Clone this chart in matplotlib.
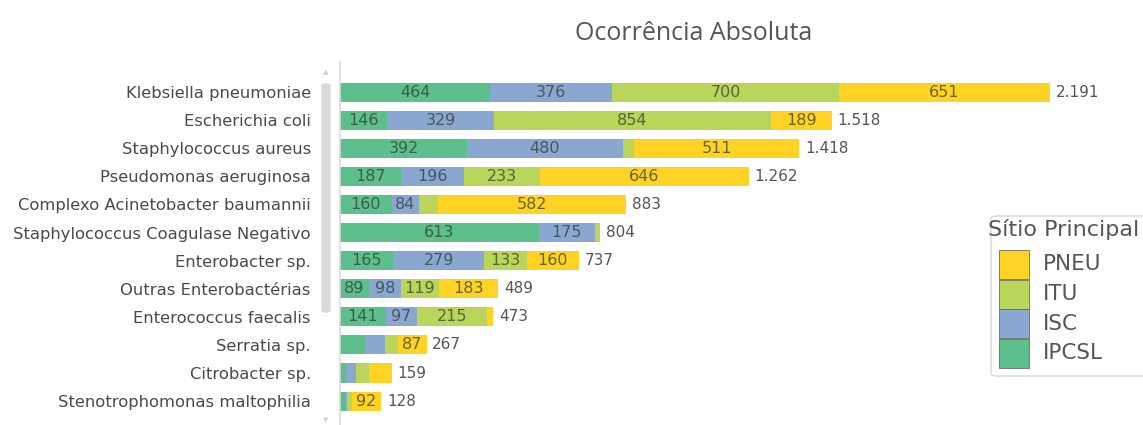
import matplotlib
matplotlib.use("Agg")
import matplotlib.pyplot as plt
from matplotlib.patches import Rectangle, FancyBboxPatch
import numpy as np

plt.rcParams['font.family'] = ['DejaVu Sans']

# microrganismos e ocorrência por sítio principal
especies = ['Klebsiella pneumoniae', 'Escherichia coli', 'Staphylococcus aureus',
            'Pseudomonas aeruginosa', 'Complexo Acinetobacter baumannii',
            'Staphylococcus Coagulase Negativo', 'Enterobacter sp.',
            'Outras Enterobactérias', 'Enterococcus faecalis', 'Serratia sp.',
            'Citrobacter sp.', 'Stenotrophomonas maltophilia']
ipcsl = [464, 146, 392, 187, 160, 613, 165, 89, 141, 78, 18, 18]
isc = [376, 329, 480, 196, 84, 175, 279, 98, 97, 60, 31, 4]
itu = [700, 854, 35, 233, 57, 16, 133, 119, 215, 42, 41, 14]
pneu = [651, 189, 511, 646, 582, 0, 160, 183, 20, 87, 69, 92]

sitios = ['IPCSL', 'ISC', 'ITU', 'PNEU']
cores = {'IPCSL': '#5cbf8c', 'ISC': '#8aa7d2', 'ITU': '#b9d65a', 'PNEU': '#ffd324'}
series = {'IPCSL': ipcsl, 'ISC': isc, 'ITU': itu, 'PNEU': pneu}

W, H = 1143, 425
fig = plt.figure(figsize=(W / 100, H / 100), dpi=100)
ax = fig.add_axes([340 / W, 0, (1100 - 340) / W, (425 - 62) / H])

y = np.arange(len(especies))
esquerda = np.zeros(len(especies))
for s in sitios:
    v = np.array(series[s])
    ax.barh(y, v, left=esquerda, height=0.68, color=cores[s], linewidth=0)
    for yi, l, vi in zip(y, esquerda, v):
        if vi >= 80:
            ax.text(l + vi / 2, yi, str(vi), ha='center', va='center',
                    fontsize=11.5, color='#2e3a2e', alpha=0.72)
    esquerda += v

def milhar(n):
    return f'{n:,}'.replace(',', '.')

for yi, t in zip(y, esquerda):
    ax.text(t + 18, yi, milhar(int(t)), ha='left', va='center',
            fontsize=11, color='#555555')

ax.set_xlim(0, 760 / 0.324)
ax.set_ylim(11.85, -1.07)
ax.set_yticks(y)
ax.set_yticklabels(especies, fontsize=11.8, color='#4a4a4a')
ax.tick_params(axis='y', length=0, pad=21)
ax.set_xticks([])
for lado in ['top', 'right', 'bottom']:
    ax.spines[lado].set_visible(False)
ax.spines['left'].set_color('#d8dcd8')
ax.spines['left'].set_linewidth(1.2)

# barra de rolagem
fig.patches.append(FancyBboxPatch((322 / W, (H - 312) / H), 8 / W, 228 / H,
                                  boxstyle='round,pad=0,rounding_size=0.004',
                                  transform=fig.transFigure, color='#d9d9d9'))
fig.text(326 / W, 1 - 72 / H, '▲', fontsize=5, color='#d0d0d0', ha='center', va='center')
fig.text(326 / W, 1 - 420 / H, '▼', fontsize=5, color='#d0d0d0', ha='center', va='center')

fig.text(694 / W, 1 - 34 / H, 'Ocorrência Absoluta', fontsize=18, color='#555555',
         ha='center', va='center', family=['Open Sans', 'DejaVu Sans'])

# legenda
fig.patches.append(FancyBboxPatch((991 / W, (H - 376) / H), 170 / W, 160 / H,
                                  boxstyle='round,pad=0,rounding_size=0.006',
                                  transform=fig.transFigure, facecolor='white',
                                  edgecolor='#d6d6d6', linewidth=1))
fig.text(988 / W, 1 - 230 / H, 'Sítio Principal', fontsize=16, color='#555555',
         ha='left', va='center')
topo = 250
for s in ['PNEU', 'ITU', 'ISC', 'IPCSL']:
    fig.patches.append(Rectangle((999 / W, (H - topo - 29) / H), 30 / W, 29 / H,
                                 transform=fig.transFigure, facecolor=cores[s],
                                 edgecolor='#6a6a6a', linewidth=0.6))
    fig.text(1043 / W, 1 - (topo + 14.5) / H, s, fontsize=15.5, color='#555555',
             ha='left', va='center')
    topo += 29.5

fig.savefig('out.png', dpi=100)
